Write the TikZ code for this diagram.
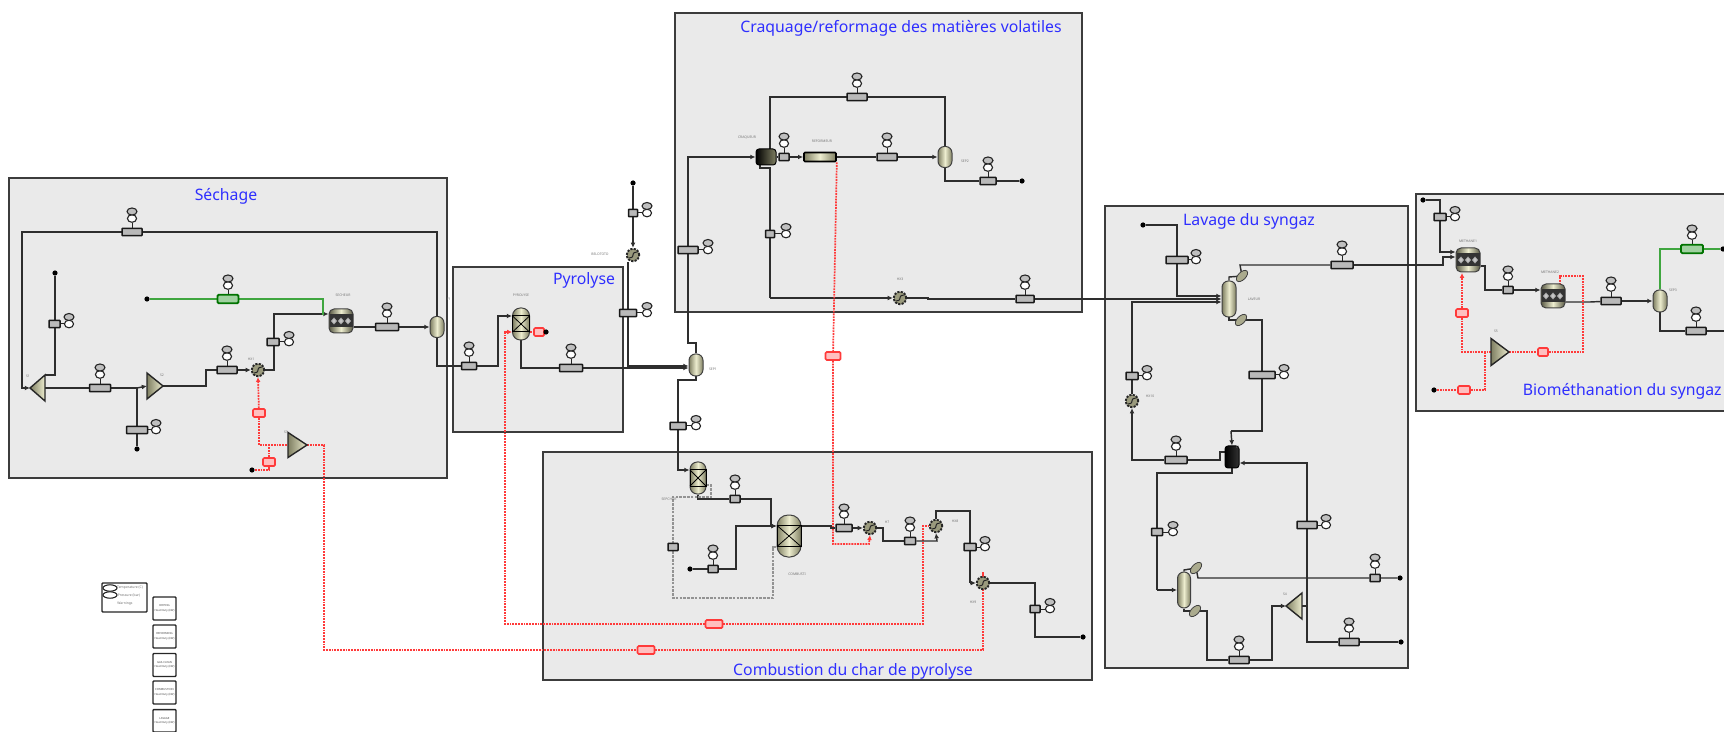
\documentclass[tikz,border=0pt]{standalone}
\usepackage{fontspec}
\setmainfont{Noto Sans}
\usetikzlibrary{arrows.meta,shapes.geometric}
\definecolor{ves1}{HTML}{7F7F62}
\definecolor{ves2}{HTML}{EDEDCF}
\definecolor{panelfill}{HTML}{EAEAEA}
\definecolor{paneledge}{HTML}{3C3C3C}
\definecolor{titleblue}{HTML}{2F2FFF}
\definecolor{pipecol}{HTML}{2E2E2E}
\definecolor{redl}{HTML}{FF3A3A}
\definecolor{greenl}{HTML}{3FA63F}
\pgfdeclarelayer{panels}
\pgfdeclarelayer{pipes}
\pgfsetlayers{panels,pipes,main}
\tikzset{
  panel/.style={draw=paneledge,fill=panelfill,line width=.9pt},
  paneltitle/.style={text=titleblue,font=\fontsize{7.9}{10}\selectfont,inner sep=0pt},
  stbox/.style={draw=black!90,line width=.75pt,fill=gray!55,inner sep=0pt,minimum height=3.6pt,rounded corners=.3pt},
  greenbox/.style={draw=green!45!black,line width=.9pt,fill=green!35!gray!55,inner sep=0pt,minimum height=4.2pt,rounded corners=.6pt},
  redbox/.style={draw=redl,line width=.85pt,fill=red!25,inner sep=0pt,minimum height=4pt,rounded corners=.6pt},
  gtag/.style={ellipse,draw=black!85,line width=.55pt,fill=gray!50,inner sep=0pt,minimum width=5pt,minimum height=3.5pt},
  wtag/.style={ellipse,draw=black!85,line width=.55pt,fill=white,inner sep=0pt,minimum width=4.6pt,minimum height=3.8pt},
  tagstem/.style={draw=black!85,line width=.5pt},
  vessel/.style={draw=black!75,line width=.5pt,left color=ves1,right color=ves1,middle color=ves2,inner sep=0pt,rounded corners=3.2pt},
  drumv/.style={draw=black!75,line width=.5pt,left color=ves1!70!black,right color=ves1!70!black,middle color=ves2,inner sep=0pt,rounded corners=2.5pt},
  hxv/.style={circle,draw=black!85,line width=.95pt,dash pattern=on 1.1pt off .6pt,fill=ves1!75!ves2,inner sep=0pt,minimum size=6.2pt},
  blackv/.style={draw=black,line width=.5pt,left color=black,middle color=black!85,right color=ves1,inner sep=0pt,rounded corners=1.5pt},
  condv/.style={ellipse,draw=black!75,line width=.4pt,fill=ves1!60!ves2,inner sep=0pt,minimum width=7pt,minimum height=3.8pt,rotate=45},
  tri/.style={draw=black!85,line width=.7pt,left color=ves1,right color=ves2},
  anchorbox/.style={inner sep=0pt,outer sep=0pt},
  enddot/.style={circle,fill=black,inner sep=0pt,minimum size=2.6pt},
  pipe/.style={draw=pipecol,line width=.72pt,line join=miter},
  flow/.style={pipe,-{Latex[length=2.6pt,width=2.4pt]}},
  redp/.style={draw=redl,line width=.85pt,dash pattern=on .9pt off .5pt},
  redflow/.style={redp,-{Latex[length=2.4pt,width=2.4pt]}},
  greenp/.style={draw=greenl,line width=1.05pt},
  grayp/.style={draw=gray!85,line width=.75pt,dash pattern=on 1.3pt off .6pt},
  tiny label/.style={text=black!55,font=\fontsize{1.7}{2.2}\selectfont,inner sep=0pt},
  legendcell/.style={draw=black!85,line width=.7pt,fill=white,inner sep=0pt,minimum width=11.5pt,minimum height=11.5pt,align=center,font=\fontsize{1.4}{2}\selectfont,text=black!70,rounded corners=.4pt},
}
% stream table, plain
\newcommand{\strm}[5][stbox]{\node[#1,minimum width=#5*0.5pt] (#2) at (#3,#4) {};}
% stream table with indicators above
\newcommand{\strU}[5][stbox]{%
  \node[#1,minimum width=#5*0.5pt] (#2) at (#3,#4) {};
  \node[wtag] (#2p) at (#3,#4-13.5) {};
  \node[gtag] (#2t) at (#3,#4-20.5) {};
  \draw[tagstem] (#2.north) -- (#2p.south);}
% stream table with indicators to the right (#6 = their x)
\newcommand{\strR}[6][stbox]{%
  \node[#1,minimum width=#5*0.5pt] (#2) at (#3,#4) {};
  \node[wtag] (#2p) at (#6,#4) {};
  \node[gtag] (#2t) at (#6,#4-7) {};
  \draw[tagstem] (#2.east) -- (#2p.west);}
% triangle units
\newcommand{\triR}[5]{% name cx cy w h ; apex to the right
  \node[anchorbox,minimum width=#4*0.5pt,minimum height=#5*0.5pt] (#1) at (#2,#3) {};
  \draw[tri] (#1.south west) -- (#1.east) -- (#1.north west) -- cycle;}
\newcommand{\triL}[5]{%
  \node[anchorbox,minimum width=#4*0.5pt,minimum height=#5*0.5pt] (#1) at (#2,#3) {};
  \draw[tri] (#1.south east) -- (#1.west) -- (#1.north east) -- cycle;}
% heat exchanger
\newcommand{\hx}[3]{%
  \node[hxv] (#1) at (#2,#3) {};
  \draw[black!85,line width=.5pt] (#2-4,#3+3) .. controls (#2+4,#3+2) and (#2-4,#3-2) .. (#2+4,#3-3);}
% packed reactor
\newcommand{\rxcol}[5]{%
  \node[vessel,rounded corners=#4*0.23pt,minimum width=#4*0.5pt,minimum height=#5*0.5pt] (#1) at (#2,#3) {};
  \draw[black,line width=.5pt] (#2-#4/2,#3-#5/4) rectangle (#2+#4/2,#3+#5/4);
  \draw[black,line width=.4pt] (#2-#4/2,#3-#5/4) -- (#2+#4/2,#3+#5/4) (#2-#4/2,#3+#5/4) -- (#2+#4/2,#3-#5/4);}
% drum reactor with catalyst band
\newcommand{\drum}[3]{%
  \node[drumv,minimum width=12pt,minimum height=12pt] (#1) at (#2,#3) {};
  \fill[black!80] (#2-11.5,#3-6.5) rectangle (#2+11.5,#3+6.5);
  \foreach \dx in {-7,0,7}{\draw[gray!75,line width=.35pt,fill=gray!45] (#2+\dx-2.6,#3) -- (#2+\dx,#3-3) -- (#2+\dx+2.6,#3) -- (#2+\dx,#3+3) -- cycle;}}
\begin{document}
\begin{tikzpicture}[x=0.5pt,y=-0.5pt]
\useasboundingbox (0,0) rectangle (1724,732);
% ---------- panels
\begin{pgfonlayer}{panels}
  \draw[panel] (9,178) rectangle (447,478);
  \draw[panel] (453,267) rectangle (623,432);
  \draw[panel] (675,13) rectangle (1082,312);
  \draw[panel] (543,452) rectangle (1092,680);
  \draw[panel] (1105,206) rectangle (1408,668);
  \fill[panelfill] (1416,194) rectangle (1724,411);
  \draw[paneledge,line width=.9pt] (1724,194) -- (1416,194) -- (1416,411) -- (1724,411);
\end{pgfonlayer}
\node[paneltitle] (tsech) at (226,196.5) {Séchage};
\node[paneltitle] (tpyro) at (584,280) {Pyrolyse};
\node[paneltitle] (tcraq) at (901,28) {Craquage/reformage des matières volatiles};
\node[paneltitle] (tcomb) at (853,671) {Combustion du char de pyrolyse};
\node[paneltitle] (tlav) at (1249,221) {Lavage du syngaz};
\node[paneltitle,anchor=east] (tbio) at (1722,391) {Biométhanation du syngaz};
% ---------- Séchage
\triL{m1}{37.5}{388}{15}{26}
\triR{m2}{155}{386}{16}{26}
\triR{m3}{297.5}{445}{19}{25}
\hx{he1}{258}{370}
\drum{dry}{341}{321}
\node[vessel,minimum width=7pt,minimum height=10.5pt] (fl1) at (437,327) {};
\strU{s1}{132}{232}{20}
\strR{s2}{54.5}{324}{11}{69}
\strU{s3}{100}{388}{21}
\strR{s4}{137}{430}{21}{156}
\strU{s5}{227}{370}{20}
\strR{s6}{273}{342}{12}{289}
\strU[greenbox]{s7}{228}{299}{21}
\strU{s8}{387}{327}{23}
\strU{s9}{469}{366}{15}
\strm[redbox]{r1}{259}{413}{12}
\strm[redbox]{r2}{269}{462}{12}
\node[enddot] (d1) at (55,273) {};
\node[enddot] (d2) at (137,449) {};
\node[enddot] (d3) at (147,299) {};
\node[enddot] (d4) at (252,470) {};
\node[tiny label] (l1) at (343,295) {SECHEUR};
\node[tiny label] (l2) at (28,376) {S1};
\node[tiny label] (l3) at (162,375) {S2};
\node[tiny label] (l4) at (251,359) {HX1};
\node[tiny label] (l5) at (286,432) {S3};
\node[tiny label] (l6) at (449,299) {F1};
% ---------- Pyrolyse
\rxcol{pyr}{521}{324}{17}{32}
\strm[redbox]{r3}{539}{332}{10}
\node[enddot] (d5) at (546,332) {};
\strU{s10}{571}{368}{23}
\strR{s11}{628}{313}{17}{647}
\strR{s12}{633}{213}{9}{647}
\hx{he2}{633}{255}
\node[enddot] (d6) at (633,183) {};
\node[vessel,minimum width=7pt,minimum height=11pt] (fl2) at (696,365) {};
\node[tiny label] (l7) at (521,295) {PYROLYSE};
\node[tiny label] (l8) at (600,254) {BELOTOTO};
\node[tiny label] (l9) at (713,369) {SEP1};
% ---------- Craquage
\strR{s13}{688}{250}{20}{708}
\node[blackv,minimum width=10pt,minimum height=8pt] (cra) at (766,157) {};
\strU{s14}{857}{97}{20}
\strU{s15}{784}{157}{10}
\node[vessel,rounded corners=.5pt,minimum width=16pt,minimum height=4.5pt,draw=black,line width=.8pt] (ref) at (820,157) {};
\strU{s16}{887}{157}{20}
\node[vessel,minimum width=7pt,minimum height=10.5pt] (fl3) at (945,157) {};
\strU{s17}{988}{181}{16}
\node[enddot] (d7) at (1022,181) {};
\strR{s18}{770}{234}{9}{786}
\hx{he3}{900}{298}
\strU{s19}{1025}{299}{18}
\strm[redbox]{r4}{833}{356}{15}
\node[tiny label] (l10) at (747,138) {CRAQUEUR};
\node[tiny label] (l11) at (822,141) {REFORMEUR};
\node[tiny label] (l12) at (965,161) {SEP2};
\node[tiny label] (l13) at (900,279) {HX3};
% ---------- Combustion
\strR{s20}{678}{426}{16}{696}
\rxcol{cyc}{698}{478}{16}{32}
\strU{s21}{735}{499}{10}
\strm[stbox]{s22}{673}{547}{10}
\strU{s23}{713}{569}{10}
\node[enddot] (d8) at (690,569) {};
\rxcol{com}{789}{536}{24}{42}
\strU{s24}{844}{528}{16}
\hx{he4}{870}{528}
\strU{s25}{910}{541}{11}
\hx{he5}{936}{526}
\strR{s26}{970}{547}{12}{985}
\hx{he6}{983}{583}
\strR{s27}{1035}{609}{10}{1050}
\node[enddot] (d9) at (1083,637) {};
\strm[redbox]{r5}{714}{624}{17}
\strm[redbox]{r6}{646}{650}{17}
\coordinate (tick) at (983,572);
\node[tiny label] (l14) at (669,499) {SEPCHAR};
\node[tiny label] (l15) at (797,574) {COMBUSTI};
\node[tiny label] (l16) at (887,522) {H7};
\node[tiny label] (l17) at (955,521) {HX8};
\node[tiny label] (l18) at (973,602) {HX9};
% ---------- Lavage
\node[enddot] (d10) at (1143,225) {};
\strR{s28}{1177}{260}{22}{1196}
\node[vessel,minimum width=7pt,minimum height=18pt] (col1) at (1229,299) {};
\node[condv] (c1t) at (1242,276) {};
\node[condv] (c1b) at (1241,320) {};
\strU{s29}{1342}{265}{22}
\strR{s30}{1262}{375}{26}{1284}
\strR{s31}{1132}{376}{12}{1147}
\hx{he7}{1132}{401}
\strU{s32}{1176}{460}{22}
\node[blackv,minimum width=7pt,minimum height=11pt,right color=black!80] (exc) at (1232,457) {};
\strR{s33}{1157}{532}{11}{1173}
\strR{s34}{1307}{525}{20}{1326}
\node[vessel,minimum width=6.5pt,minimum height=18pt] (col2) at (1184,590) {};
\node[condv] (c2t) at (1196,568) {};
\node[condv] (c2b) at (1195,611) {};
\strU{s35}{1375}{578}{10}
\node[enddot] (d11) at (1400,578) {};
\strU{s36}{1239}{660}{20}
\triL{m4}{1294}{606}{16}{26}
\strU{s37}{1349}{642}{20}
\node[enddot] (d12) at (1401,642) {};
\node[tiny label] (l19) at (1254,299) {LAVEUR};
\node[tiny label] (l20) at (1150,396) {HX10};
\node[tiny label] (l21) at (1285,594) {S4};
\node[tiny label] (l22) at (1238,447) {E1};
% ---------- Biométhanation
\node[enddot] (d13) at (1423,200) {};
\strR{s38}{1440}{217}{12}{1455}
\drum{met1}{1468}{260}
\strU{s39}{1508}{290}{10}
\drum{met2}{1553}{296}
\strU{s40}{1611}{301}{20}
\node[vessel,minimum width=7pt,minimum height=11pt] (fl4) at (1660,301) {};
\strU[greenbox]{s41}{1692}{249}{22}
\node[enddot] (d14) at (1723,249) {};
\strU{s42}{1696}{331}{20}
\coordinate (outb) at (1724,331);
\strm[redbox]{r7}{1462}{313}{12}
\triR{m5}{1500}{352}{18}{27}
\node[enddot] (d15) at (1434,390) {};
\strm[redbox]{r8}{1464}{390}{12}
\strm[redbox]{r9}{1543}{352}{10}
\node[tiny label] (l23) at (1468,241) {METHANE1};
\node[tiny label] (l24) at (1550,272) {METHANE2};
\node[tiny label] (l25) at (1673,290) {SEP3};
\node[tiny label] (l26) at (1496,331) {S5};
% ---------- connectors
\begin{pgfonlayer}{pipes}
  % Séchage
  \draw[flow] (fl1.north) -- (437,232) -- (22,232) -- (22,388) -- (m1.west);
  \draw[pipe] (m1.north east) -- (55,375) -- (d1);
  \draw[pipe] (s3) -- (m1.east);
  \draw[flow] (137,388) -- (m2.west);
  \draw[pipe] (137,388) -- (s3);
  \draw[pipe] (137,388) -- (d2);
  \draw[flow] (m2.east) -- (206,386) -- (206,370) -- (he1.west);
  \draw[flow] (he1.east) -- (274,370) -- (274,314) -- (dry.west |- 0,314);
  \draw[greenp] (d3) -- (323,299) -- (323,315);
  \draw[flow] (dry.east |- 0,327) -- (fl1.west);
  \draw[pipe] (fl1.south) -- (437,366) -- (s9);
  \draw[flow] (s9) -- (498,366) -- (498,316) -- (pyr.west |- 0,316);
  \draw[redflow] (r1) -- (he1.south);
  \draw[redp] (r1) -- (259,445) -- (m3.west);
  \draw[redp] (d4) -- (269,470) -- (r2);
  \draw[redp] (r2) -- (269,445);
  \draw[redp] (m3.east) -- (324,445) -- (324,650) -- (r6);
  \draw[redp] (r6) -- (983,650) -- (he6.south);
  \draw[redl,line width=.6pt] (he6.south) -- (tick);
  % Pyrolyse
  \draw[redflow] (r5) -- (505,624) -- (505,332) -- (pyr.west |- 0,332);
  \draw[redp] (r5) -- (923,624) -- (923,526) -- (he5.west);
  \draw[redp] (pyr.east |- 0,332) -- (r3);
  \draw[pipe] (r3) -- (d5);
  \draw[flow] (pyr.south) -- (521,368) -- (fl2.west |- 0,368);
  \draw[flow] (he2.south) ++(-5,0) -- (628,366) -- (fl2.west |- 0,366);
  \draw[flow] (d6) -- (he2.north);
  % flash -> up and down
  \draw[flow] (fl2.north) -- (696,343) -- (688,343) -- (688,157) -- (cra.west);
  \draw[flow] (fl2.south) -- (696,380) -- (678,380) -- (678,470) -- (cyc.west |- 0,470);
  % Craquage
  \draw[pipe] (770,149) -- (770,97) -- (945,97) -- (fl3.north);
  \draw[pipe] (cra.east) -- (s15);
  \draw[flow] (s15) -- (ref.west);
  \draw[pipe,line width=1.3pt] (ref.east) -- (852,157);
  \draw[flow] (852,157) -- (s16) -- (fl3.west);
  \draw[pipe] (fl3.south) -- (945,181) -- (s17) -- (d7);
  \draw[pipe] (760,165) -- (760,168) -- (770,168) -- (770,298);
  \draw[flow] (770,298) -- (he3.west);
  \draw[pipe] (he3.east) -- (928,298) -- (928,299) -- (s19);
  \draw[flow] (s19) -- (col1.west |- 0,299);
  \draw[redp] (ref.south east) -- (833,356) -- (r4);
  \draw[redflow] (r4) -- (833,544) -- (869,544) -- (he4.south);
  % Combustion
  \draw[pipe] (cyc.south) -- (698,499) -- (s21);
  \draw[flow] (s21) -- (771,499) -- (771,526) -- (com.west |- 0,526);
  \draw[flow] (d8) -- (736,569) -- (736,526) -- (com.west |- 0,526);
  \draw[grayp] (cyc.east |- 0,485) -- (711,485) -- (711,497) -- (673,497) -- (s22);
  \draw[grayp] (s22) -- (673,598) -- (773,598) -- (773,547) -- (com.west |- 0,547);
  \draw[pipe] (com.east |- 0,526) -- (831,526) -- (831,528) -- (s24);
  \draw[flow] (s24) -- (he4.west);
  \draw[pipe] (he4.east) -- (883,528) -- (883,541) -- (s25);
  \draw[flow] (s25) -- (937,541) -- (he5.south);
  \draw[pipe] (he5.north) -- (936,511) -- (970,511) -- (970,583);
  \draw[flow] (970,583) -- (he6.west);
  \draw[pipe] (he6.east) -- (1035,583) -- (1035,637) -- (d9);
  % Lavage
  \draw[flow] (d10) -- (1177,225) -- (1177,296) -- (col1.west |- 0,296);
  \draw[pipe] (col1.north) -- (1229,277) -- (c1t.center);
  \draw[pipe] (c1t.center) -- (1240,265) -- (s29);
  \draw[flow] (s29) -- (1443,265) -- (1443,257) -- (met1.west |- 0,257);
  \draw[pipe] (col1.south) -- (1229,320) -- (c1b.center);
  \draw[pipe] (c1b.center) -- (1262,320) -- (1262,431) -- (1231,431);
  \draw[flow] (1231,431) -- (exc.north);
  \draw[pipe] (exc.west |- 0,452) -- (1220,452) -- (1220,460) -- (s32);
  \draw[flow] (s32) -- (1132,460) -- (he7.south);
  \draw[flow] (he7.north) -- (1132,302) -- (col1.west |- 0,302);
  \draw[pipe] (exc.south) -- (1232,473) -- (1157,473) -- (1157,590);
  \draw[flow] (1157,590) -- (col2.west);
  \draw[flow] (1307,606) -- (1307,463) -- (exc.east |- 0,463);
  \draw[pipe] (col2.north) -- (1184,570) -- (c2t.center);
  \draw[pipe] (c2t.center) -- (1198,578) -- (s35) -- (d11);
  \draw[pipe] (col2.south) -- (1184,611) -- (c2b.center);
  \draw[pipe] (c2b.center) -- (1207,611) -- (1207,660) -- (s36);
  \draw[flow] (s36) -- (1272,660) -- (1272,606) -- (m4.west);
  \draw[pipe] (m4.east) -- (1307,606) -- (1307,642) -- (s37) -- (d12);
  % Biométhanation
  \draw[flow] (d13) -- (1440,200) -- (1440,252) -- (met1.west |- 0,252);
  \draw[pipe] (met1.east |- 0,266) -- (1485,266) -- (1485,290) -- (s39);
  \draw[flow] (s39) -- (met2.west |- 0,290);
  \draw[pipe] (met2.east |- 0,302) -- (1590,302) -- (s40);
  \draw[flow] (s40) -- (fl4.west);
  \draw[greenp] (fl4.north) -- (1660,249) -- (s41);
  \draw[greenp] (s41) -- (d14);
  \draw[pipe] (fl4.south) -- (1660,331) -- (s42) -- (outb);
  \draw[redflow] (r7) -- (1462,273);
  \draw[redp] (r7) -- (1462,352) -- (m5.west);
  \draw[redp] (d15) -- (r8);
  \draw[redp] (r8) -- (1485,390) -- (1485,352);
  \draw[redp] (m5.east) -- (r9);
  \draw[redp] (r9) -- (1583,352) -- (1583,276) -- (1560,276) -- (1560,284);
\end{pgfonlayer}
% ---------- legend
\node[draw=black!85,line width=.7pt,fill=white,inner sep=0pt,minimum width=22.5pt,minimum height=14.5pt,rounded corners=.4pt] (leg) at (124.5,597.5) {};
\node[gtag,minimum width=7pt,minimum height=3.2pt,fill=white] (leg1) at (110,588) {};
\node[wtag,minimum width=7pt,minimum height=3.2pt] (leg2) at (110,595) {};
\node[tiny label] (lt1) at (130,588) {Temperature (C)};
\node[tiny label] (lt2) at (129,595) {Pressure (bar)};
\node[tiny label] (lt3) at (125,604) {Warnings};
\node[legendcell] (q1) at (164.5,608.5) {DRYING\\[.2pt]Heat Duty (kW)};
\node[legendcell] (q2) at (164.5,636.5) {REFORMING\\[.2pt]Heat Duty (kW)};
\node[legendcell] (q3) at (164.5,665) {GAS-CLEAN\\[.2pt]Heat Duty (kW)};
\node[legendcell] (q4) at (164.5,692.5) {COMBUSTION\\[.2pt]Heat Duty (kW)};
\node[legendcell,minimum height=11.2pt] (q5) at (164.5,720.8) {LAVAGE\\[.2pt]Heat Duty (kW)};
\end{tikzpicture}
\end{document}
